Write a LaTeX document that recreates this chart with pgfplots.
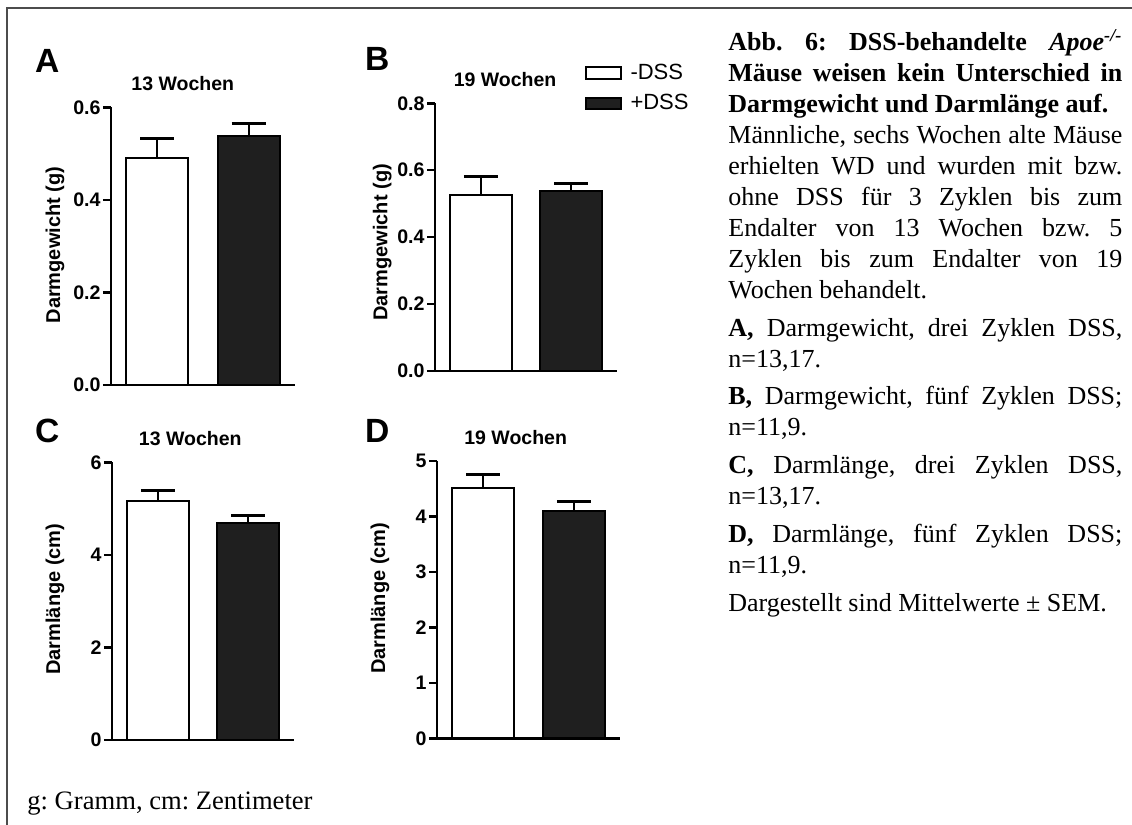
\documentclass[border=0pt]{standalone}
\usepackage{pgfplots}
\pgfplotsset{compat=1.18}
\usepackage{fontspec}
\setmainfont{Liberation Serif}
\newfontfamily\arial{Liberation Sans}
\frenchspacing

\pgfplotsset{
 panel/.style={
  scale only axis, anchor=south west,
  axis x line=bottom, axis y line=left,
  axis line style={-, line width=1.2pt, black},
  xmin=0.49, xmax=2.51, ymin=0,
  xtick=\empty,
  tick align=outside, major tick length=4pt,
  ytick style={line width=1.2pt, black},
  tick label style={font=\arial\bfseries\fontsize{9.8}{11}\selectfont},
  yticklabel style={xshift=2.3pt},
  /pgf/number format/assume math mode=true,
  label style={font=\arial\bfseries\fontsize{10}{12}\selectfont},
  title style={font=\arial\bfseries\fontsize{9.75}{11}\selectfont, anchor=base},
  clip=false,
 },
 wbar/.style={ybar, bar width=31pt, bar shift=0pt, draw=black, fill=white, line width=1pt, area legend,
   error bars/.cd, y dir=plus, y explicit,
   error bar style={line width=1pt, black},
   error mark=|, error mark options={line width=1.5pt, mark size=8.5pt, black}},
 bbar/.style={ybar, bar width=31pt, bar shift=0pt, draw=black, fill=black!88, line width=1pt, area legend,
   error bars/.cd, y dir=plus, y explicit,
   error bar style={line width=1pt, black},
   error mark=|, error mark options={line width=1.5pt, mark size=8.5pt, black}},
}

\begin{document}
\begin{tikzpicture}
\useasboundingbox (0,0) rectangle (566pt,-412.5pt);
% frame
\draw[line width=1pt, black!70] (3.5pt,-412.5pt) -- (3.5pt,-4pt) -- (566pt,-4pt);

% panel letters
\node[anchor=base west, inner sep=0pt, font=\arial\bfseries\fontsize{16.8}{18}\selectfont] at (17.3pt,-36pt) {A};
\node[anchor=base west, inner sep=0pt, font=\arial\bfseries\fontsize{16.8}{18}\selectfont] at (182.3pt,-35pt) {B};
\node[anchor=base west, inner sep=0pt, font=\arial\bfseries\fontsize{16.8}{18}\selectfont] at (17.3pt,-221pt) {C};
\node[anchor=base west, inner sep=0pt, font=\arial\bfseries\fontsize{16.8}{18}\selectfont] at (182.3pt,-221pt) {D};

% A
\begin{axis}[panel, at={(55.5pt,-192.5pt)}, width=92pt, height=138.85pt,
  ymax=0.6, ytick={0,0.2,0.4,0.6},
  yticklabel style={/pgf/number format/.cd, fixed, fixed zerofill, precision=1},
  ylabel={Darmgewicht (g)}, ylabel style={at={(axis description cs:-0.304,0.504)}, anchor=center},
  title={13 Wochen}, title style={at={(0.39,1)}, yshift=2.2pt}]
\addplot[wbar] coordinates {(1,0.491) +- (0,0.042)};
\addplot[bbar] coordinates {(2,0.538) +- (0,0.026)};
\end{axis}

% B
\begin{axis}[panel, at={(217.5pt,-185.35pt)}, width=91pt, height=133.7pt,
  ymax=0.8, ytick={0,0.2,0.4,0.6,0.8},
  yticklabel style={/pgf/number format/.cd, fixed, fixed zerofill, precision=1},
  ylabel={Darmgewicht (g)}, ylabel style={at={(axis description cs:-0.29,0.48)}, anchor=center},
  title={19 Wochen}, title style={at={(0.385,1)}, yshift=2.6pt},
  legend style={at={(0.824,1.157)}, anchor=north west, draw=none, fill=none, inner sep=0pt,
    font=\arial\fontsize{11}{13}\selectfont, row sep=4pt,
    nodes={inner sep=1pt},
    /tikz/every odd column/.append style={column sep=3.5pt}},
  legend cell align=left,
  legend image code/.code={\draw[#1, line width=1pt, rounded corners=1.5pt] (0pt,-3.5pt) rectangle (15pt,3.5pt);}]
\addplot[wbar] coordinates {(1,0.526) +- (0,0.054)};
\addplot[bbar] coordinates {(2,0.539) +- (0,0.022)};
\legend{-DSS,+DSS}
\end{axis}

% C
\begin{axis}[panel, at={(56pt,-370pt)}, width=91pt, height=138.85pt,
  ymax=6, ytick={0,2,4,6},
  ylabel={Darml\"ange (cm)}, ylabel style={at={(axis description cs:-0.313,0.507)}, anchor=center},
  title={13 Wochen}, title style={at={(0.43,1)}, yshift=2.6pt}]
\addplot[wbar] coordinates {(1,5.16) +- (0,0.23)};
\addplot[bbar] coordinates {(2,4.68) +- (0,0.18)};
\end{axis}

% D
\begin{axis}[panel, at={(218.5pt,-369.15pt)}, width=91.5pt, height=138.65pt,
  ymax=5, ytick={0,1,2,3,4,5},
  ylabel={Darml\"ange (cm)}, ylabel style={at={(axis description cs:-0.311,0.505)}, anchor=center},
  title={19 Wochen}, title style={at={(0.43,1)}, yshift=2.5pt}]
\addplot[wbar] coordinates {(1,4.51) +- (0,0.24)};
\addplot[bbar] coordinates {(2,4.09) +- (0,0.18)};
\end{axis}

% caption
\node[anchor=base west, text width=197pt, align=justify, inner sep=0pt,
  font=\fontsize{13}{15.5}\selectfont] at (364pt,-25pt) {%
\textbf{Abb. 6: DSS-behandelte \textit{Apoe}\textsuperscript{\textit{-/-}}\linebreak
M\"ause weisen kein Unterschied in\linebreak
Darmgewicht und Darml\"ange auf.}\\
M\"annliche, sechs Wochen alte M\"ause\linebreak
erhielten WD und wurden mit bzw.\linebreak
ohne DSS f\"ur 3 Zyklen bis zum\linebreak
Endalter von 13 Wochen bzw. 5\linebreak
Zyklen bis zum Endalter von 19\linebreak
Wochen behandelt.\\[3.5pt]
\textbf{A,} Darmgewicht, drei Zyklen DSS,\linebreak
n=13,17.\\[3.5pt]
\textbf{B,} Darmgewicht, f\"unf Zyklen DSS;\linebreak
n=11,9.\\[3.5pt]
\textbf{C,} Darml\"ange, drei Zyklen DSS,\linebreak
n=13,17.\\[3.5pt]
\textbf{D,} Darml\"ange, f\"unf Zyklen DSS;\linebreak
n=11,9.\\[3.5pt]
Dargestellt sind Mittelwerte \textpm{} SEM.};

% footnote
\node[anchor=base west, inner sep=0pt, font=\fontsize{13.3}{15.5}\selectfont] at (13.5pt,-404.7pt) {g: Gramm, cm: Zentimeter};
\end{tikzpicture}
\end{document}
